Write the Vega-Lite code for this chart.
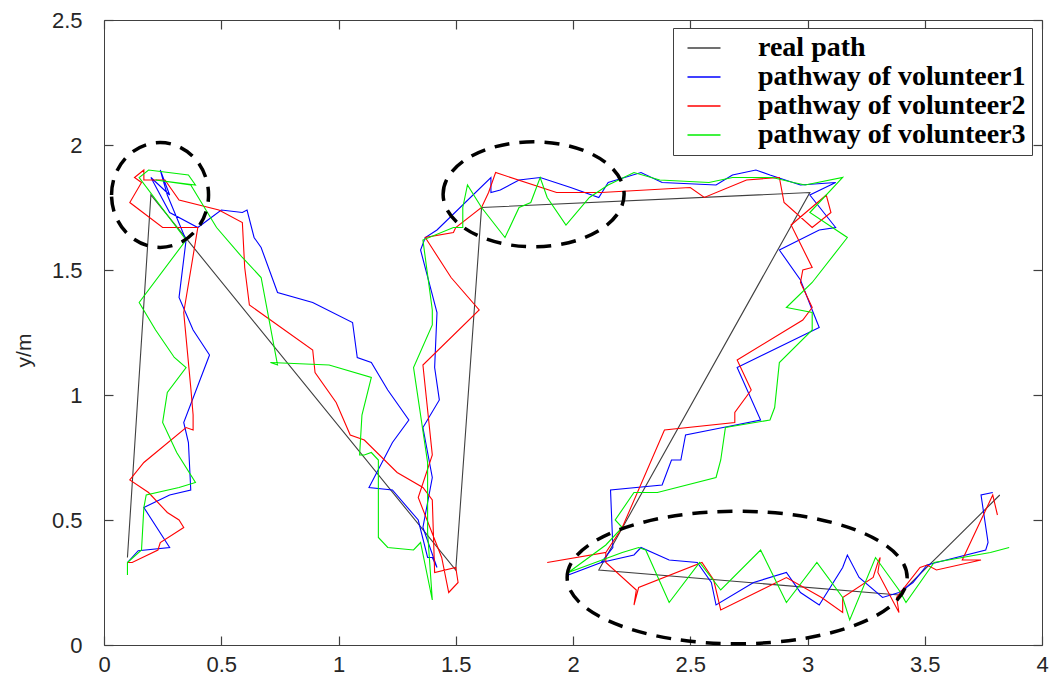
{
"$schema": "https://vega.github.io/schema/vega-lite/v6.json",
"width": 938, "height": 625,
"autosize": {"type": "none"},
"padding": {"left": 104, "top": 20, "right": 14, "bottom": 41},
"background": "white",
"config": {"view": {"stroke": "#404040", "strokeWidth": 1}, "font": "Liberation Sans"},
"datasets": {
"real": [
{"i":0,"x":0.10,"y":0.35},{"i":1,"x":0.20,"y":1.80},{"i":2,"x":1.50,"y":0.30},{"i":3,"x":1.61,"y":1.75},{"i":4,"x":3.01,"y":1.81},{"i":5,"x":2.11,"y":0.30},{"i":6,"x":3.39,"y":0.20},{"i":7,"x":3.82,"y":0.60}
],
"v1": [
{"i":0,"x":0.10,"y":0.33},{"i":1,"x":0.146,"y":0.377},{"i":2,"x":0.28,"y":0.39},{"i":3,"x":0.17,"y":0.55},{"i":4,"x":0.28,"y":0.60},{"i":5,"x":0.37,"y":0.62},{"i":6,"x":0.36,"y":0.81},{"i":7,"x":0.34,"y":0.89},{"i":8,"x":0.45,"y":1.16},{"i":9,"x":0.38,"y":1.26},{"i":10,"x":0.32,"y":1.39},{"i":11,"x":0.35,"y":1.62},{"i":12,"x":0.27,"y":1.80},{"i":13,"x":0.24,"y":1.90},{"i":14,"x":0.28,"y":1.80},{"i":15,"x":0.20,"y":1.87},{"i":16,"x":0.28,"y":1.73},{"i":17,"x":0.40,"y":1.67},{"i":18,"x":0.50,"y":1.74},{"i":19,"x":0.59,"y":1.73},{"i":20,"x":0.61,"y":1.74},{"i":21,"x":0.64,"y":1.63},{"i":22,"x":0.67,"y":1.59},{"i":23,"x":0.74,"y":1.41},{"i":24,"x":0.89,"y":1.37},{"i":25,"x":1.06,"y":1.29},{"i":26,"x":1.08,"y":1.15},{"i":27,"x":1.14,"y":1.13},{"i":28,"x":1.21,"y":1.02},{"i":29,"x":1.30,"y":0.90},{"i":30,"x":1.23,"y":0.81},{"i":31,"x":1.13,"y":0.63},{"i":32,"x":1.23,"y":0.62},{"i":33,"x":1.34,"y":0.50},{"i":34,"x":1.38,"y":0.35},{"i":35,"x":1.40,"y":0.35},{"i":36,"x":1.42,"y":0.31},{"i":37,"x":1.36,"y":0.47},{"i":38,"x":1.40,"y":0.67},{"i":39,"x":1.36,"y":0.87},{"i":40,"x":1.43,"y":0.98},{"i":41,"x":1.41,"y":1.11},{"i":42,"x":1.42,"y":1.33},{"i":43,"x":1.35,"y":1.58},{"i":44,"x":1.37,"y":1.63},{"i":45,"x":1.42,"y":1.66},{"i":46,"x":1.65,"y":1.87},{"i":47,"x":1.65,"y":1.81},{"i":48,"x":1.69,"y":1.82},{"i":49,"x":1.77,"y":1.86},{"i":50,"x":1.86,"y":1.87},{"i":51,"x":1.99,"y":1.83},{"i":52,"x":2.11,"y":1.79},{"i":53,"x":2.15,"y":1.85},{"i":54,"x":2.29,"y":1.89},{"i":55,"x":2.38,"y":1.85},{"i":56,"x":2.61,"y":1.84},{"i":57,"x":2.68,"y":1.88},{"i":58,"x":2.78,"y":1.90},{"i":59,"x":2.84,"y":1.88},{"i":60,"x":2.97,"y":1.84},{"i":61,"x":3.12,"y":1.85},{"i":62,"x":3.01,"y":1.80},{"i":63,"x":3.12,"y":1.67},{"i":64,"x":3.05,"y":1.66},{"i":65,"x":2.88,"y":1.58},{"i":66,"x":2.97,"y":1.46},{"i":67,"x":3.02,"y":1.34},{"i":68,"x":3.05,"y":1.27},{"i":69,"x":2.70,"y":1.11},{"i":70,"x":2.80,"y":0.90},{"i":71,"x":2.64,"y":0.87},{"i":72,"x":2.48,"y":0.84},{"i":73,"x":2.46,"y":0.74},{"i":74,"x":2.42,"y":0.74},{"i":75,"x":2.38,"y":0.64},{"i":76,"x":2.16,"y":0.62},{"i":77,"x":2.17,"y":0.39},{"i":78,"x":2.12,"y":0.33},{"i":79,"x":1.98,"y":0.28},{"i":80,"x":2.12,"y":0.33},{"i":81,"x":2.26,"y":0.36},{"i":82,"x":2.29,"y":0.39},{"i":83,"x":2.41,"y":0.34},{"i":84,"x":2.53,"y":0.33},{"i":85,"x":2.59,"y":0.25},{"i":86,"x":2.61,"y":0.16},{"i":87,"x":2.77,"y":0.25},{"i":88,"x":2.91,"y":0.29},{"i":89,"x":2.97,"y":0.21},{"i":90,"x":3.05,"y":0.16},{"i":91,"x":3.15,"y":0.31},{"i":92,"x":3.17,"y":0.36},{"i":93,"x":3.22,"y":0.27},{"i":94,"x":3.32,"y":0.19},{"i":95,"x":3.39,"y":0.21},{"i":96,"x":3.45,"y":0.25},{"i":97,"x":3.51,"y":0.32},{"i":98,"x":3.55,"y":0.33},{"i":99,"x":3.76,"y":0.38},{"i":100,"x":3.77,"y":0.41},{"i":101,"x":3.74,"y":0.60},{"i":102,"x":3.79,"y":0.61}
],
"v2": [
{"i":0,"x":0.10,"y":0.33},{"i":1,"x":0.12,"y":0.33},{"i":2,"x":0.23,"y":0.38},{"i":3,"x":0.24,"y":0.41},{"i":4,"x":0.34,"y":0.47},{"i":5,"x":0.32,"y":0.50},{"i":6,"x":0.27,"y":0.53},{"i":7,"x":0.19,"y":0.61},{"i":8,"x":0.11,"y":0.66},{"i":9,"x":0.17,"y":0.73},{"i":10,"x":0.35,"y":0.87},{"i":11,"x":0.38,"y":0.86},{"i":12,"x":0.38,"y":0.92},{"i":13,"x":0.37,"y":1.03},{"i":14,"x":0.34,"y":1.33},{"i":15,"x":0.40,"y":1.67},{"i":16,"x":0.25,"y":1.67},{"i":17,"x":0.11,"y":1.77},{"i":18,"x":0.16,"y":1.85},{"i":19,"x":0.13,"y":1.87},{"i":20,"x":0.17,"y":1.90},{"i":21,"x":0.17,"y":1.86},{"i":22,"x":0.26,"y":1.86},{"i":23,"x":0.32,"y":1.78},{"i":24,"x":0.49,"y":1.74},{"i":25,"x":0.59,"y":1.69},{"i":26,"x":0.60,"y":1.51},{"i":27,"x":0.62,"y":1.36},{"i":28,"x":0.89,"y":1.18},{"i":29,"x":0.90,"y":1.09},{"i":30,"x":0.99,"y":0.97},{"i":31,"x":1.05,"y":0.84},{"i":32,"x":1.11,"y":0.82},{"i":33,"x":1.25,"y":0.69},{"i":34,"x":1.36,"y":0.63},{"i":35,"x":1.40,"y":0.58},{"i":36,"x":1.41,"y":0.29},{"i":37,"x":1.50,"y":0.31},{"i":38,"x":1.51,"y":0.25},{"i":39,"x":1.47,"y":0.21},{"i":40,"x":1.44,"y":0.35},{"i":41,"x":1.34,"y":0.59},{"i":42,"x":1.40,"y":0.76},{"i":43,"x":1.36,"y":1.12},{"i":44,"x":1.60,"y":1.34},{"i":45,"x":1.48,"y":1.47},{"i":46,"x":1.37,"y":1.63},{"i":47,"x":1.49,"y":1.65},{"i":48,"x":1.50,"y":1.67},{"i":49,"x":1.61,"y":1.75},{"i":50,"x":1.64,"y":1.81},{"i":51,"x":1.67,"y":1.89},{"i":52,"x":1.93,"y":1.81},{"i":53,"x":2.12,"y":1.81},{"i":54,"x":2.50,"y":1.83},{"i":55,"x":2.56,"y":1.79},{"i":56,"x":2.74,"y":1.86},{"i":57,"x":2.88,"y":1.87},{"i":58,"x":2.90,"y":1.77},{"i":59,"x":3.02,"y":1.67},{"i":60,"x":3.10,"y":1.73},{"i":61,"x":3.08,"y":1.80},{"i":62,"x":2.93,"y":1.68},{"i":63,"x":3.02,"y":1.51},{"i":64,"x":2.98,"y":1.50},{"i":65,"x":2.97,"y":1.45},{"i":66,"x":3.02,"y":1.35},{"i":67,"x":2.98,"y":1.30},{"i":68,"x":2.70,"y":1.14},{"i":69,"x":2.76,"y":1.02},{"i":70,"x":2.69,"y":0.93},{"i":71,"x":2.69,"y":0.89},{"i":72,"x":2.39,"y":0.86},{"i":73,"x":2.21,"y":0.47},{"i":74,"x":2.14,"y":0.37},{"i":75,"x":1.89,"y":0.33},{"i":76,"x":2.14,"y":0.37},{"i":77,"x":2.14,"y":0.33},{"i":78,"x":2.27,"y":0.22},{"i":79,"x":2.26,"y":0.16},{"i":80,"x":2.28,"y":0.23},{"i":81,"x":2.55,"y":0.33},{"i":82,"x":2.60,"y":0.26},{"i":83,"x":2.63,"y":0.14},{"i":84,"x":2.91,"y":0.27},{"i":85,"x":3.06,"y":0.19},{"i":86,"x":3.15,"y":0.13},{"i":87,"x":3.15,"y":0.19},{"i":88,"x":3.28,"y":0.27},{"i":89,"x":3.30,"y":0.33},{"i":90,"x":3.31,"y":0.35},{"i":91,"x":3.30,"y":0.29},{"i":92,"x":3.39,"y":0.13},{"i":93,"x":3.38,"y":0.19},{"i":94,"x":3.48,"y":0.31},{"i":95,"x":3.51,"y":0.32},{"i":96,"x":3.55,"y":0.30},{"i":97,"x":3.74,"y":0.34},{"i":98,"x":3.66,"y":0.34},{"i":99,"x":3.79,"y":0.60},{"i":100,"x":3.81,"y":0.52}
],
"v3": [
{"i":0,"x":0.10,"y":0.28},{"i":1,"x":0.10,"y":0.33},{"i":2,"x":0.16,"y":0.38},{"i":3,"x":0.17,"y":0.55},{"i":4,"x":0.18,"y":0.60},{"i":5,"x":0.32,"y":0.63},{"i":6,"x":0.39,"y":0.65},{"i":7,"x":0.31,"y":0.77},{"i":8,"x":0.25,"y":0.89},{"i":9,"x":0.27,"y":1.01},{"i":10,"x":0.35,"y":1.11},{"i":11,"x":0.30,"y":1.15},{"i":12,"x":0.22,"y":1.26},{"i":13,"x":0.15,"y":1.37},{"i":14,"x":0.35,"y":1.62},{"i":15,"x":0.15,"y":1.87},{"i":16,"x":0.19,"y":1.90},{"i":17,"x":0.36,"y":1.88},{"i":18,"x":0.39,"y":1.84},{"i":19,"x":0.22,"y":1.86},{"i":20,"x":0.37,"y":1.84},{"i":21,"x":0.48,"y":1.67},{"i":22,"x":0.59,"y":1.55},{"i":23,"x":0.67,"y":1.47},{"i":24,"x":0.74,"y":1.12},{"i":25,"x":0.71,"y":1.13},{"i":26,"x":0.96,"y":1.12},{"i":27,"x":1.14,"y":1.07},{"i":28,"x":1.10,"y":0.92},{"i":29,"x":1.09,"y":0.76},{"i":30,"x":1.11,"y":0.76},{"i":31,"x":1.14,"y":0.77},{"i":32,"x":1.17,"y":0.74},{"i":33,"x":1.17,"y":0.43},{"i":34,"x":1.21,"y":0.39},{"i":35,"x":1.32,"y":0.38},{"i":36,"x":1.35,"y":0.41},{"i":37,"x":1.40,"y":0.18},{"i":38,"x":1.38,"y":0.45},{"i":39,"x":1.38,"y":0.73},{"i":40,"x":1.32,"y":1.11},{"i":41,"x":1.40,"y":1.28},{"i":42,"x":1.40,"y":1.34},{"i":43,"x":1.36,"y":1.62},{"i":44,"x":1.49,"y":1.67},{"i":45,"x":1.53,"y":1.67},{"i":46,"x":1.53,"y":1.75},{"i":47,"x":1.55,"y":1.84},{"i":48,"x":1.61,"y":1.75},{"i":49,"x":1.71,"y":1.63},{"i":50,"x":1.77,"y":1.75},{"i":51,"x":1.82,"y":1.77},{"i":52,"x":1.86,"y":1.87},{"i":53,"x":1.89,"y":1.79},{"i":54,"x":1.97,"y":1.68},{"i":55,"x":2.07,"y":1.79},{"i":56,"x":2.15,"y":1.84},{"i":57,"x":2.26,"y":1.89},{"i":58,"x":2.37,"y":1.86},{"i":59,"x":2.58,"y":1.85},{"i":60,"x":2.68,"y":1.87},{"i":61,"x":2.85,"y":1.87},{"i":62,"x":2.94,"y":1.85},{"i":63,"x":2.99,"y":1.84},{"i":64,"x":3.15,"y":1.87},{"i":65,"x":3.01,"y":1.73},{"i":66,"x":3.17,"y":1.63},{"i":67,"x":3.02,"y":1.45},{"i":68,"x":2.91,"y":1.35},{"i":69,"x":3.02,"y":1.33},{"i":70,"x":3.02,"y":1.26},{"i":71,"x":2.88,"y":1.13},{"i":72,"x":2.86,"y":0.95},{"i":73,"x":2.84,"y":0.90},{"i":74,"x":2.65,"y":0.87},{"i":75,"x":2.63,"y":0.74},{"i":76,"x":2.61,"y":0.67},{"i":77,"x":2.36,"y":0.61},{"i":78,"x":2.26,"y":0.61},{"i":79,"x":2.18,"y":0.50},{"i":80,"x":2.21,"y":0.47},{"i":81,"x":2.14,"y":0.40},{"i":82,"x":1.98,"y":0.29},{"i":83,"x":2.21,"y":0.37},{"i":84,"x":2.28,"y":0.39},{"i":85,"x":2.31,"y":0.38},{"i":86,"x":2.41,"y":0.17},{"i":87,"x":2.54,"y":0.33},{"i":88,"x":2.63,"y":0.22},{"i":89,"x":2.80,"y":0.38},{"i":90,"x":2.91,"y":0.17},{"i":91,"x":3.04,"y":0.33},{"i":92,"x":3.15,"y":0.19},{"i":93,"x":3.18,"y":0.10},{"i":94,"x":3.29,"y":0.35},{"i":95,"x":3.39,"y":0.22},{"i":96,"x":3.42,"y":0.17},{"i":97,"x":3.54,"y":0.33},{"i":98,"x":3.78,"y":0.37},{"i":99,"x":3.86,"y":0.39}
]
},
"encoding": {
"x": {"field": "x", "type": "quantitative", "scale": {"domain": [0, 4], "nice": false}, "axis": null},
"y": {"field": "y", "type": "quantitative", "scale": {"domain": [0, 2.5], "nice": false}, "axis": null},
"order": {"field": "i", "type": "quantitative"}
},
"layer": [
{
"data": {"name": "real"},
"mark": {"type": "line", "strokeWidth": 1.1},
"encoding": {
"x": {"field": "x", "type": "quantitative", "axis": {"orient": "bottom", "values": [0,0.5,1,1.5,2,2.5,3,3.5,4], "format": "~g", "title": null, "domain": false, "grid": false, "offset": -9, "tickSize": 9, "tickWidth": 1.2, "tickColor": "#404040", "labelPadding": 9, "labelFontSize": 22, "labelColor": "#262626", "labelFont": "Liberation Sans", "labelFlush": false}},
"y": {"field": "y", "type": "quantitative", "axis": {"orient": "left", "values": [0,0.5,1,1.5,2,2.5], "format": "~g", "title": "y/m", "titleFontSize": 21, "titleFontWeight": "normal", "titleColor": "#262626", "titleFont": "Liberation Sans", "titleX": -79, "titleY": 330, "domain": false, "grid": false, "offset": -9, "tickSize": 9, "tickWidth": 1.2, "tickColor": "#404040", "labelPadding": 22, "labelFontSize": 22, "labelColor": "#262626", "labelFont": "Liberation Sans", "labelFlush": false}},
"color": {"datum": "real path", "type": "nominal", "scale": {"domain": ["real path", "pathway of volunteer1", "pathway of volunteer2", "pathway of volunteer3"], "range": ["#404040", "#0000ff", "#ff0000", "#00ee00"]}, "legend": {"title": null, "orient": "none", "legendX": 569, "legendY": 8, "strokeColor": "#404040", "fillColor": "white", "padding": 6, "labelFont": "Liberation Serif", "labelFontWeight": "bold", "labelFontSize": 28, "labelColor": "black", "labelLimit": 500, "symbolType": "M -1 0 L 5 0", "symbolSize": 121, "symbolStrokeWidth": 1.5, "rowPadding": 1, "labelOffset": 51}}
}
},
{"data": {"name": "v1"}, "mark": {"type": "line", "strokeWidth": 1.1}, "encoding": {"color": {"datum": "pathway of volunteer1", "type": "nominal"}}},
{"data": {"name": "v2"}, "mark": {"type": "line", "strokeWidth": 1.1}, "encoding": {"color": {"datum": "pathway of volunteer2", "type": "nominal"}}},
{"data": {"name": "v3"}, "mark": {"type": "line", "strokeWidth": 1.1}, "encoding": {"color": {"datum": "pathway of volunteer3", "type": "nominal"}}},
{
"data": {"values": [{"x": 0.239, "y": 1.80}]},
"mark": {"type": "point", "shape": "M -1 0 A 1 1.08 0 1 1 1 0 A 1 1.08 0 1 1 -1 0 Z", "size": 9409, "filled": false, "stroke": "black", "strokeWidth": 3.5, "strokeDash": [15, 10], "opacity": 1},
"encoding": {
"x": {"field": "x", "type": "quantitative", "axis": {"orient": "top", "values": [0,0.5,1,1.5,2,2.5,3,3.5,4], "labels": false, "title": null, "domain": false, "grid": false, "offset": -9, "tickSize": 9, "tickWidth": 1.2, "tickColor": "#404040"}},
"y": {"field": "y", "type": "quantitative", "axis": {"orient": "right", "values": [0,0.5,1,1.5,2,2.5], "labels": false, "title": null, "domain": false, "grid": false, "offset": -9, "tickSize": 9, "tickWidth": 1.2, "tickColor": "#404040"}}
}
},
{
"data": {"values": [{"x": 1.832, "y": 1.803}]},
"mark": {"type": "point", "shape": "M -1 0 A 1 0.58 0 1 1 1 0 A 1 0.58 0 1 1 -1 0 Z", "size": 32761, "filled": false, "stroke": "black", "strokeWidth": 3.5, "strokeDash": [15, 10], "opacity": 1}
},
{
"data": {"values": [{"x": 2.70, "y": 0.27}]},
"mark": {"type": "point", "shape": "M -1 0 A 1 0.39 0 1 1 1 0 A 1 0.39 0 1 1 -1 0 Z", "size": 115600, "filled": false, "stroke": "black", "strokeWidth": 3.5, "strokeDash": [15, 10], "opacity": 1}
}
],
"resolve": {"axis": {"x": "independent", "y": "independent"}}
}
